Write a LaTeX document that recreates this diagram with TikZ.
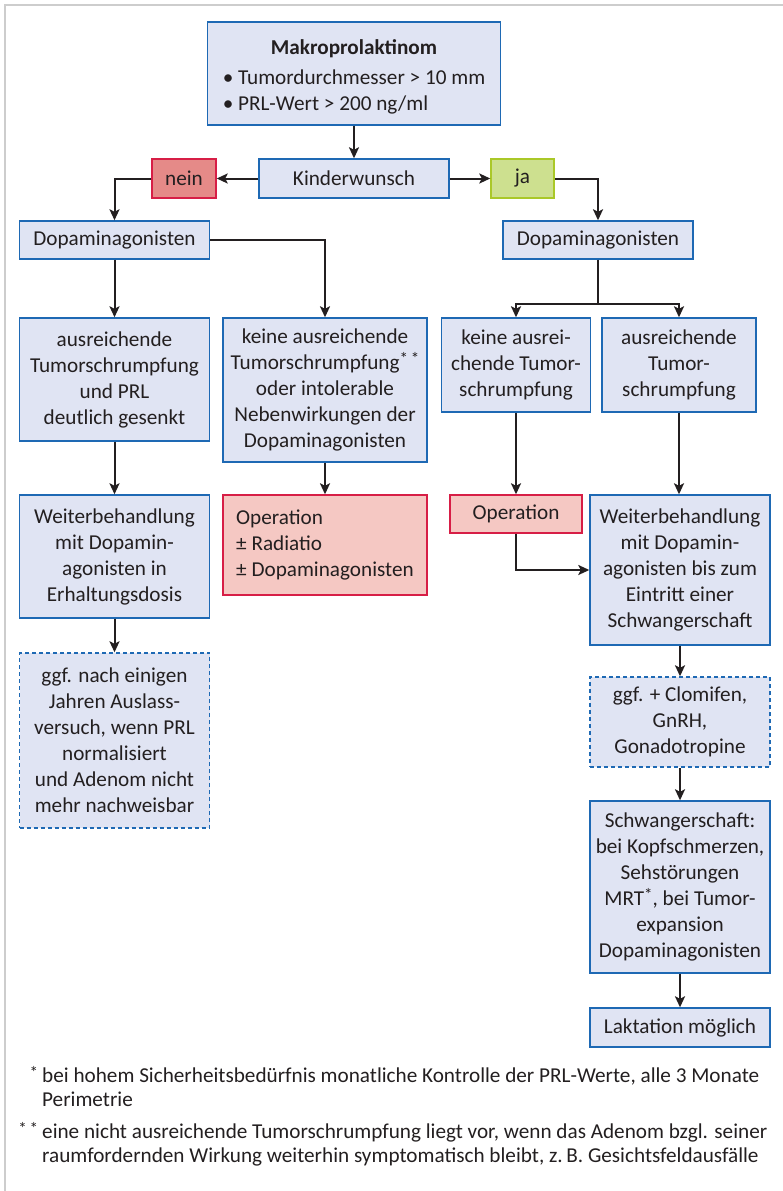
\documentclass[tikz,border=0pt]{standalone}
\usepackage{fontspec}
\setmainfont{Carlito}
\usetikzlibrary{arrows.meta}

\definecolor{boxfill}{RGB}{224,228,243}
\definecolor{boxline}{RGB}{30,105,180}
\definecolor{redline}{RGB}{215,30,70}
\definecolor{neinfill}{RGB}{229,138,136}
\definecolor{opfill}{RGB}{245,200,195}
\definecolor{jafill}{RGB}{205,224,143}
\definecolor{jaline}{RGB}{170,200,40}
\definecolor{ink}{RGB}{35,31,32}
\definecolor{framegray}{RGB}{205,205,205}

\newcommand{\fnstars}[1]{\raisebox{0.22em}{\fontsize{17}{17}\selectfont #1}}

\begin{document}
\begin{tikzpicture}
[
  x=1pt,
  y=-1pt,
  font=\fontsize{21.2}{26}\selectfont,
  text=ink,
  box/.style={draw=boxline,fill=boxfill,line width=1.4pt,inner sep=0pt,align=center},
  redbox/.style={box,draw=redline,fill=neinfill},
  opbox/.style={box,draw=redline,fill=opfill},
  greenbox/.style={box,draw=jaline,fill=jafill},
  dashbox/.style={box,dash pattern=on 4pt off 3pt},
  link/.style={line width=2pt,draw=ink},
  arr/.style={link,-{Stealth[length=11pt,width=10pt,inset=2.5pt]}},
  footnote/.style={anchor=north west,align=left,inner sep=0pt,font=\fontsize{21.2}{24}\selectfont}
]

\useasboundingbox (0,0) rectangle (783,1191);
\draw[framegray,line width=1.5pt] (5,1191) -- (5,5) -- (783,5);

% Top row
\node[box,minimum width=293pt,minimum height=103pt] (top) at (354,73.5)
  {\rule{0pt}{26pt}\textbf{Makroprolaktinom}\\[7pt]
   \begin{tabular}{@{}l@{}}• Tumordurchmesser > 10 mm\\ • PRL-Wert > 200 ng/ml\end{tabular}};
\node[box,minimum width=190pt,minimum height=39pt] (kinder) at (354,178.5) {Kinderwunsch};
\node[redbox,minimum width=64pt,minimum height=39pt] (nein) at (184,178.5) {nein};
\node[greenbox,minimum width=63pt,minimum height=39pt] (ja) at (522.5,178.5) {ja};
\node[box,minimum width=190pt,minimum height=38pt] (dopaL) at (114.5,240) {Dopaminagonisten};
\node[box,minimum width=190pt,minimum height=38pt] (dopaR) at (598,240) {Dopaminagonisten};

% Left branch
\node[box,minimum width=190pt,minimum height=123pt] (ausrL) at (114.5,379.5)
  {ausreichende\\Tumorschrumpfung\\und PRL\\deutlich gesenkt};
\node[box,minimum width=204pt,minimum height=144pt] (keineL) at (325,390)
  {keine ausreichende\\Tumorschrumpfung\fnstars{*\,*}\\oder intolerable\\Nebenwirkungen der\\Dopaminagonisten};
\node[box,minimum width=190pt,minimum height=123pt] (weiterL) at (114.5,556.5)
  {Weiterbehandlung\\mit Dopamin-\\agonisten in\\Erhaltungsdosis};
\node[opbox,align=left,minimum width=204pt,minimum height=100pt] (opL) at (325,545)
  {Operation\\± Radiatio\\± Dopaminagonisten};
\node[dashbox,minimum width=190pt,minimum height=175pt] (ggfL) at (114.5,740.5)
  {ggf. nach einigen\\Jahren Auslass-\\versuch, wenn PRL\\normalisiert\\und Adenom nicht\\mehr nachweisbar};

% Right branch
\node[box,minimum width=149pt,minimum height=94pt] (keineR) at (516,365)
  {keine ausrei-\\chende Tumor-\\schrumpfung};
\node[box,minimum width=154pt,minimum height=94pt] (ausrR) at (679,365)
  {ausreichende\\Tumor-\\schrumpfung};
\node[opbox,minimum width=132pt,minimum height=38pt] (opR) at (516,514) {Operation};
\node[box,minimum width=180pt,minimum height=150pt] (weiterR) at (680,570)
  {Weiterbehandlung\\mit Dopamin-\\agonisten bis zum\\Eintritt einer\\Schwangerschaft};
\node[dashbox,minimum width=180pt,minimum height=90pt] (ggfR) at (680,722)
  {ggf. + Clomifen,\\GnRH,\\Gonadotropine};
\node[box,minimum width=180pt,minimum height=172pt] (schw) at (680,887)
  {Schwangerschaft:\\bei Kopfschmerzen,\\Sehstörungen\\MRT\fnstars{*}, bei Tumor-\\expansion\\Dopaminagonisten};
\node[box,minimum width=180pt,minimum height=39pt] (lakt) at (680,1027.5) {Laktation möglich};

% Connectors
\draw[arr] (top) -- (kinder);
\draw[arr] (kinder) -- (nein);
\draw[arr] (kinder) -- (ja);
\draw[arr] (nein.west) -| (dopaL.north);
\draw[arr] (ja.east) -| (dopaR.north);
\draw[arr] (dopaL.east) -| (keineL.north);
\draw[arr] (dopaL) -- (ausrL);
\draw[arr] (ausrL) -- (weiterL);
\draw[arr] (weiterL) -- (ggfL);
\draw[arr] (keineL) -- (opL);
\path (dopaR.south) ++(0,44) coordinate (split);
\draw[link] (dopaR.south) -- (split);
\draw[arr] (split) -| (keineR.north);
\draw[arr] (split) -| (ausrR.north);
\draw[arr] (keineR) -- (opR);
\draw[arr] (opR.south) |- (weiterR.west);
\draw[arr] (ausrR.south) -- (ausrR.south |- weiterR.north);
\draw[arr] (weiterR) -- (ggfR);
\draw[arr] (ggfR) -- (schw);
\draw[arr] (schw) -- (lakt);

% Footnotes
\node[footnote] (fn1) at (42,1066)
  {\llap{\fnstars{*}\kern4pt}bei hohem Sicherheitsbedürfnis monatliche Kontrolle der PRL-Werte, alle 3 Monate\\Perimetrie};
\node[footnote] (fn2) at (42,1122)
  {\llap{\fnstars{*\,*}\kern4pt}eine nicht ausreichende Tumorschrumpfung liegt vor, wenn das Adenom bzgl. seiner\\raumfordernden Wirkung weiterhin symptomatisch bleibt, z.\,B. Gesichtsfeldausfälle};

\end{tikzpicture}
\end{document}
